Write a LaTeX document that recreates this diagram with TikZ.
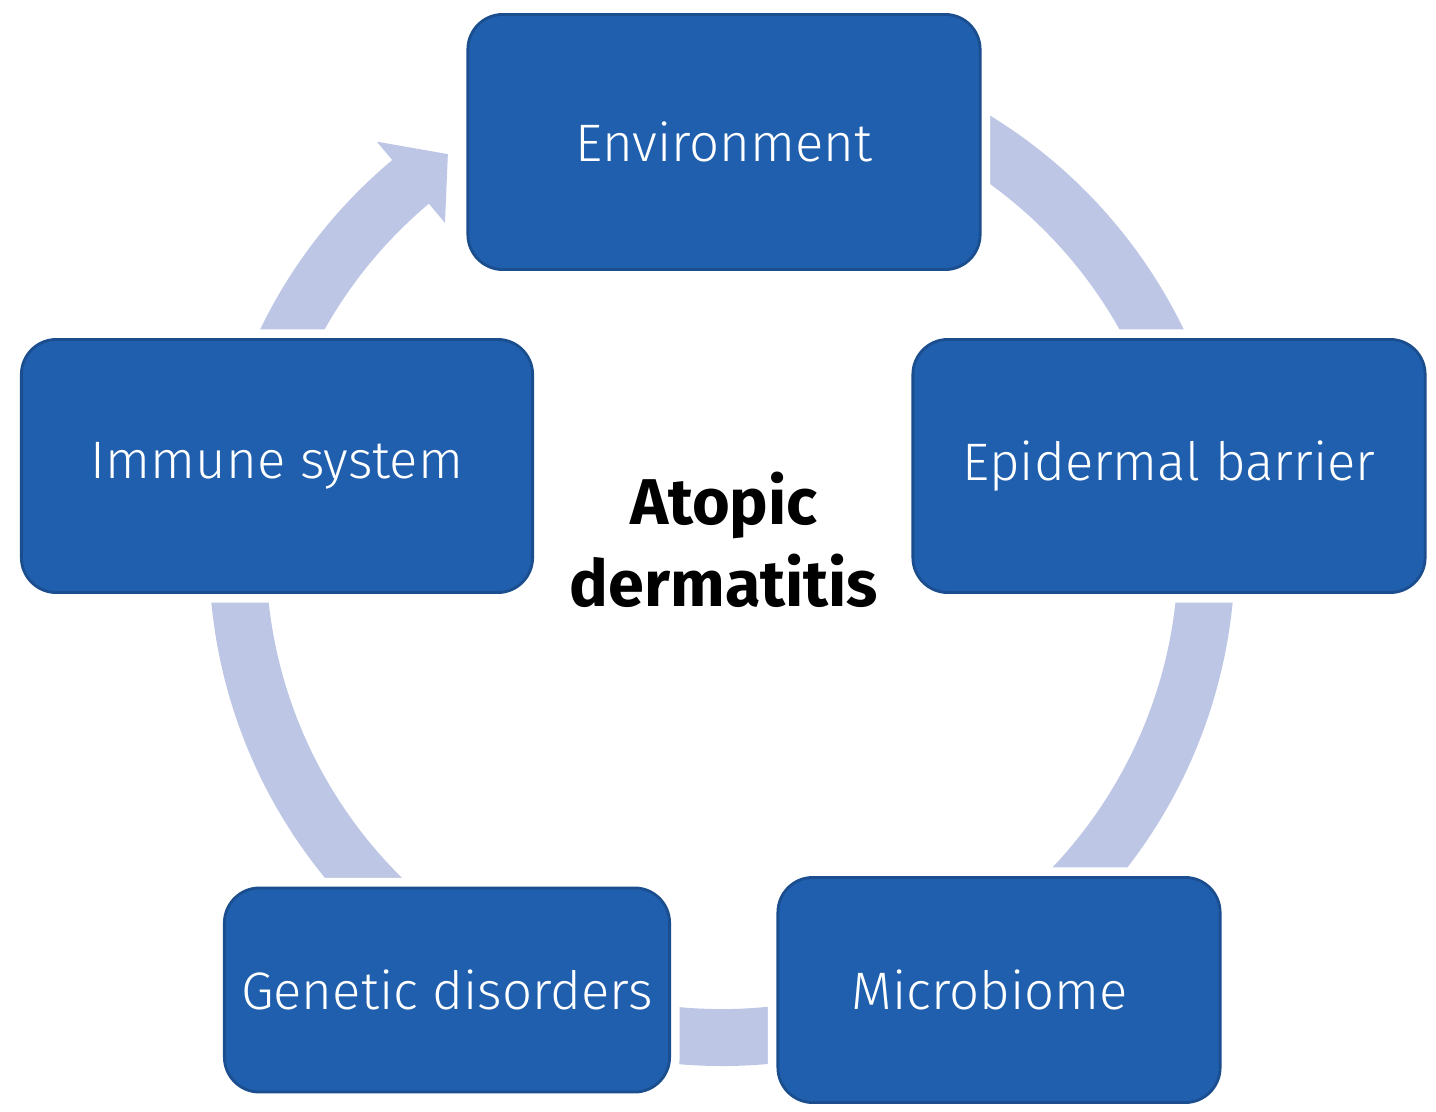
\documentclass[tikz,border=0pt]{standalone}
\usepackage{fontspec}
\setmainfont{Fira Sans Light}[BoldFont={Fira Sans Bold}]
\definecolor{boxblue}{RGB}{31,95,173}
\definecolor{boxedge}{RGB}{27,78,143}
\definecolor{ringblue}{RGB}{189,198,228}
\tikzset{factor/.style={draw=boxedge, line width=0.8pt, fill=boxblue, rounded corners=0.35cm,
    inner sep=0pt, text=white, font=\fontsize{15}{18}\selectfont,
    preaction={draw=white, line width=0.2cm}}}

\begin{document}
\begin{tikzpicture}[x=0.01cm,y=-0.01cm]
    \useasboundingbox (0,0) rectangle (1436,1112);
    % ring with its arrow head
    \fill[ringblue, shift={(722,553)}] (-62:456) arc[start angle=-62, end angle=230, radius=456]
        -- (230:431) -- (235.5:484) -- (230:537) -- (230:513)
        arc[start angle=230, end angle=-62, radius=513] -- cycle;
    \node[factor, minimum width=5.12cm, minimum height=2.55cm] (env) at (724,142) {Environment};
    \node[factor, minimum width=5.12cm, minimum height=2.53cm] (epi) at (1169,466) {Epidermal barrier};
    \node[factor, minimum width=4.42cm, minimum height=2.25cm] (mic) at (999,990) {Microbiome\hspace*{0.18cm}};
    \node[factor, minimum width=4.45cm, minimum height=2.04cm] (gen) at (447,990) {Genetic disorders};
    \node[factor, minimum width=5.11cm, minimum height=2.53cm] (imm) at (277,466) {Immune system};
    \node[font=\bfseries\fontsize{18.4}{23.3}\selectfont, align=center] (ad) at (724,540) {Atopic\\dermatitis};
\end{tikzpicture}
\end{document}
